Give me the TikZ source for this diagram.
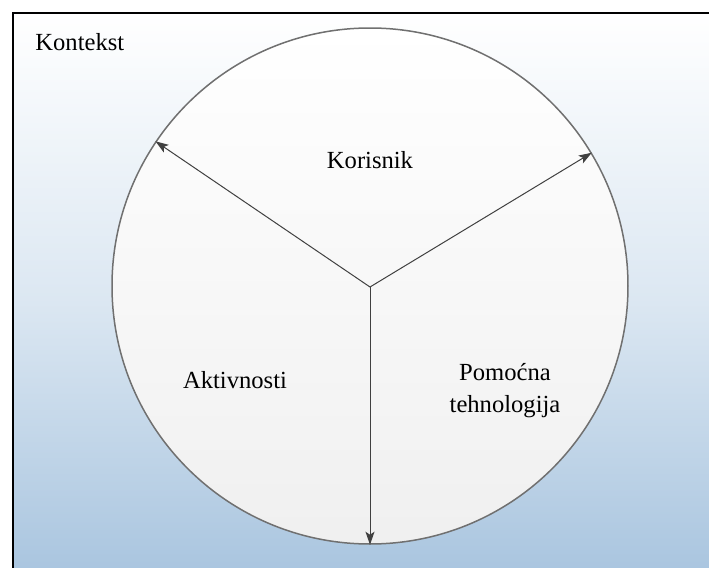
\documentclass[tikz,border=0pt]{standalone}
\usepackage{fontspec}
\setmainfont{Liberation Serif}
\usetikzlibrary{arrows.meta}
\definecolor{ctxblue}{RGB}{166,195,222}
\definecolor{rimgray}{RGB}{112,112,112}
\definecolor{spokegray}{RGB}{64,64,64}
\tikzset{
    lbl/.style={font=\fontsize{12.3}{14}\selectfont,align=center,inner sep=0pt},
    spoke/.style={draw=spokegray,line width=0.5pt,-{Stealth[length=6.5pt,width=4.5pt,inset=1.5pt]}}
}
\begin{document}
\begin{tikzpicture}[x=0.5pt,y=-0.5pt]
    \useasboundingbox (0,0) rectangle (709,568);
    \clip (0,0) rectangle (709,568);
    \shade[top color=white,bottom color=ctxblue,middle color=ctxblue!40!white] (13,13) rectangle (730,590);
    \draw[black,line width=1.3pt] (13,590)--(13,13)--(730,13);
    \node[lbl,anchor=west] (kontekst) at (35,42) {Kontekst};

    \node[circle,draw=rimgray,line width=0.75pt,minimum size=258pt,inner sep=0pt,
          top color=white,bottom color=black!6] (krug) at (370,286) {};
    \coordinate (hub) at (370,287);
    \draw[spoke] (hub) -- (krug.146);
    \draw[spoke] (hub) -- (krug.31.5);
    \draw[spoke] (hub) -- (krug.south);

    \node[lbl] (korisnik) at (370,160) {Korisnik};
    \node[lbl] (aktivnosti) at (235,380) {Aktivnosti};
    \node[lbl] (tehnologija) at (505,391) {Pomoćna\\[2pt]tehnologija};
\end{tikzpicture}
\end{document}
